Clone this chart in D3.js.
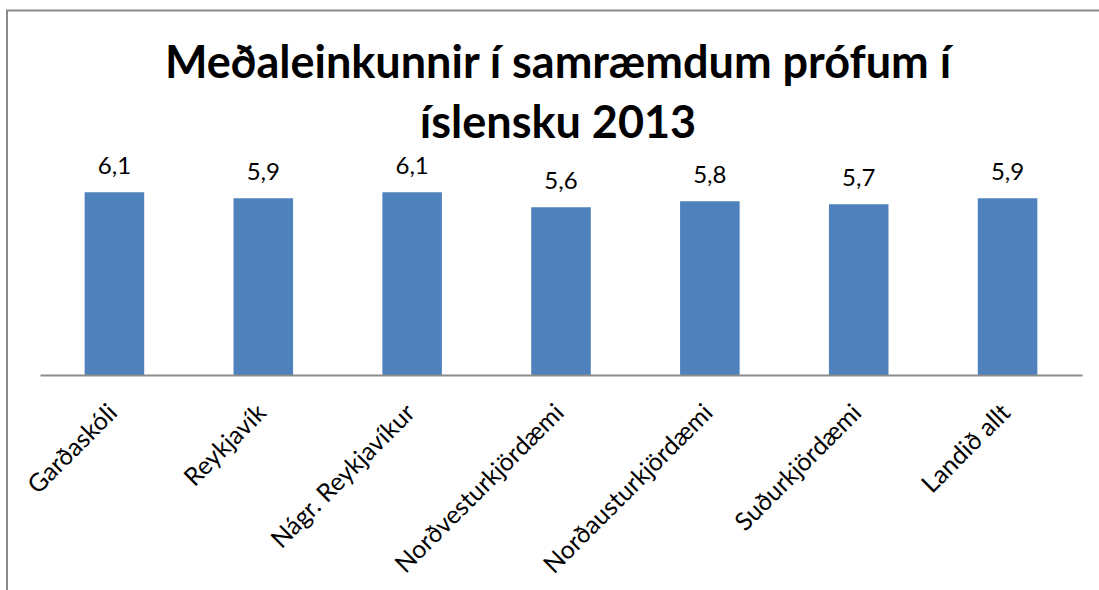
<!DOCTYPE html>
<html>
<head>
<meta charset="utf-8">
<script src="https://cdn.jsdelivr.net/npm/d3@7"></script>
<style>
  body { margin: 0; background: #fff; }
  svg { display: block; font-family: Lato, "Open Sans", sans-serif; }
</style>
</head>
<body>
<svg id="chart"></svg>
<script>
// data
const categories = ["Garðaskóli", "Reykjavík", "Nágr. Reykjavíkur", "Norðvesturkjördæmi",
  "Norðausturkjördæmi", "Suðurkjördæmi", "Landið allt"];
const values = [6.1, 5.9, 6.1, 5.6, 5.8, 5.7, 5.9];
const valueLabels = ["6,1", "5,9", "6,1", "5,6", "5,8", "5,7", "5,9"];
const titleLines = ["Meðaleinkunnir í samræmdum prófum í", "íslensku 2013"];

const width = 1099;
const height = 590;

const svg = d3.select("#chart").attr("width", width).attr("height", height);

// chart frame (runs off the right and bottom of the picture)
svg.append("rect")
  .attr("x", 7).attr("y", 10.5)
  .attr("width", width + 20).attr("height", height + 20)
  .attr("fill", "none")
  .attr("stroke", "#898989")
  .attr("stroke-width", 2);

let plotLeft = 40;
let plotRight = 1082;
let axisY = 375;

let xScale = d3.scaleBand()
  .domain(categories)
  .range([plotLeft, plotRight])
  .paddingInner(0.6)
  .paddingOuter(0.3);

let yScale = d3.scaleLinear()
  .domain([0, 7])
  .range([axisY, 165.3]);

// title
svg.append("text")
  .attr("text-anchor", "middle")
  .attr("font-weight", "bold")
  .attr("font-size", 45)
  .attr("fill", "#000")
  .selectAll("tspan")
  .data(titleLines)
  .join("tspan")
  .attr("x", 558)
  .attr("y", (d, i) => 78 + i * 60)
  .text(d => d);

// bars
svg.append("g")
  .selectAll("rect")
  .data(values)
  .join("rect")
  .attr("x", (d, i) => xScale(categories[i]))
  .attr("y", d => yScale(d))
  .attr("width", xScale.bandwidth())
  .attr("height", d => axisY - yScale(d))
  .attr("fill", "#4F81BD");

// value labels
svg.append("g")
  .selectAll("text")
  .data(values)
  .join("text")
  .attr("x", (d, i) => xScale(categories[i]) + xScale.bandwidth() / 2)
  .attr("y", d => yScale(d) - 18)
  .attr("text-anchor", "middle")
  .attr("font-size", 24)
  .attr("fill", "#000")
  .text((d, i) => valueLabels[i]);

// category axis
let xAxis = d3.axisBottom(xScale).tickSize(0).tickPadding(0);
let axisG = svg.append("g")
  .attr("transform", "translate(0," + axisY + ")")
  .call(xAxis);

axisG.select(".domain")
  .attr("stroke", "#8c8c8c")
  .attr("stroke-width", 2);

axisG.selectAll(".tick text")
  .attr("font-family", "Lato, 'Open Sans', sans-serif")
  .attr("font-size", 25)
  .attr("fill", "#000")
  .attr("text-anchor", "end")
  .attr("x", 0).attr("y", 0).attr("dy", "0.7em")
  .attr("transform", "translate(-8,27) rotate(-45)");
</script>
</body>
</html>
